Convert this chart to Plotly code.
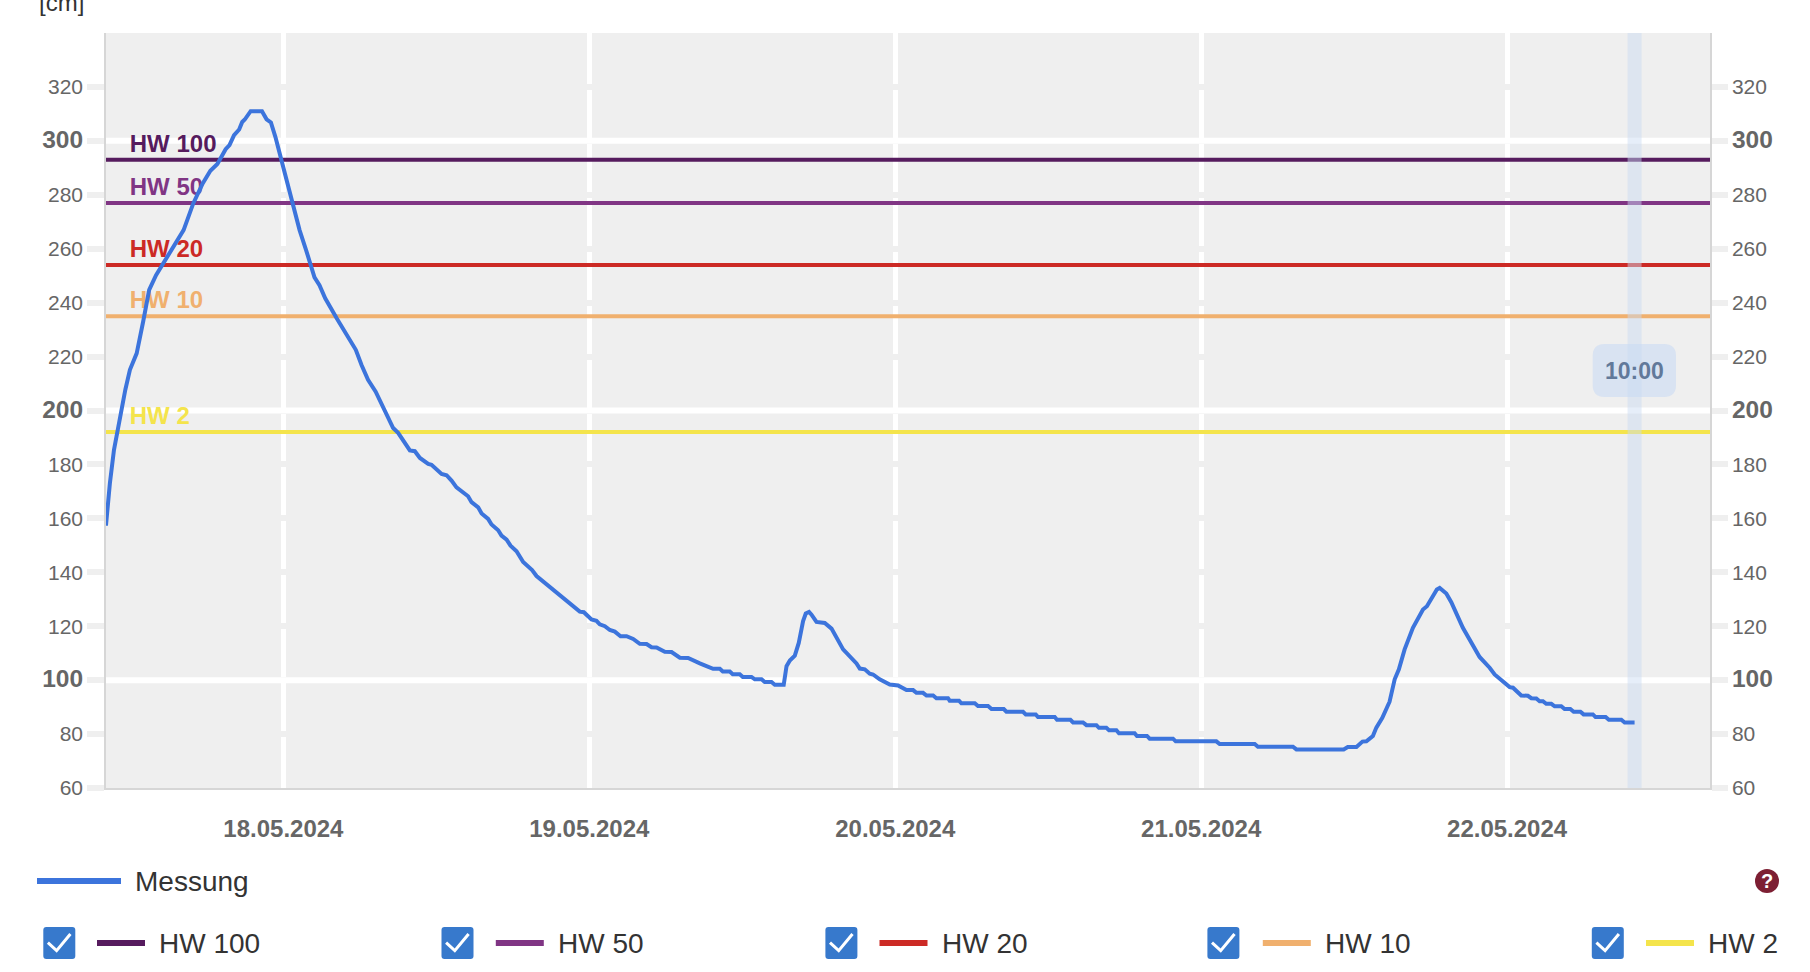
import pandas as pd
import plotly.graph_objects as go

# ---------- data ----------
START = "2024-05-17 10:00"
NOW = "2024-05-22 10:00"
RANGE_START = "2024-05-17 10:05"
RANGE_END = "2024-05-22 15:55"
hours = [0.08,0.39,0.71,0.97,1.31,1.6,1.96,2.49,3.0,3.47,4.01,4.67,5.42,6.17,6.93,7.67,8.27,8.82,9.47,9.77,10.13,10.53,10.77,10.97,11.43,12.32,12.68,13.02,13.37,13.68,13.98,14.34,14.73,15.27,15.78,16.44,16.83,17.28,18.18,19.68,20.13,20.64,21.24,21.54,22.22,22.61,23.0,23.45,23.92,24.31,24.71,25.36,25.62,26.41,26.8,27.19,27.58,28.49,28.76,29.28,29.55,30.06,30.33,30.85,31.11,31.51,31.82,32.29,32.81,33.51,33.86,37.25,37.57,38.17,38.56,38.82,39.22,39.61,40,40.45,40.92,41.44,41.96,42.49,42.88,43.27,43.92,44.45,44.84,45.1,45.75,46.14,46.67,47.19,47.71,48.24,48.47,49.02,49.25,49.8,50.04,50.72,50.98,51.51,51.76,52.29,52.55,53.25,53.47,53.73,54.12,54.43,54.77,54.98,55.24,55.43,55.82,56.47,57,57.91,58.3,58.56,58.96,59.22,59.61,60,60.26,60.78,61.18,61.57,62.22,62.49,62.88,63.4,63.66,64.18,64.45,64.97,65.23,66.14,66.27,67,67.19,68.24,68.49,69.28,69.55,70.51,70.72,72.02,72.24,73.02,73.2,74.51,74.69,75.74,75.95,76.73,77,77.78,77.98,78.56,78.77,79.35,79.55,80.78,80.96,81.75,81.96,83.79,84,87.19,87.45,90.2,90.45,93.2,93.47,97.18,97.5,98.18,98.65,98.96,99.47,99.74,100.21,100.78,101.18,101.51,101.96,102.61,102.88,103.4,103.71,104.49,104.71,105.23,105.62,106.02,106.53,107.84,108.24,108.63,109.02,110.2,110.46,111.11,111.63,111.9,112.29,112.55,112.81,113.07,113.47,113.73,114.25,114.51,114.96,115.22,115.75,116,116.73,116.94,117.73,117.98,118.96,119.22,120]
levels = [157.3,173.1,185.4,192.2,201.5,207.7,215.1,221.2,233,244.7,250.2,255.2,260.7,266.9,276.8,284.2,288.9,291.4,296.9,298.4,302.1,304.2,307,307.9,311,311,308,306.8,301.5,295.9,289.1,283.6,276.8,266.9,259.5,249.4,246.5,241.6,234.2,222.5,216.9,211.4,207,204,197.8,193.5,191.7,188.2,185.2,184.9,182.4,180.2,179.9,176.5,176,174,171.5,168.2,166,164.1,161.8,159.8,157.7,155.6,153.6,152.1,149.9,147.8,143.8,140.8,138.6,125.4,125.2,122.5,122,120.7,120,118.6,118,116.3,116.3,115.3,113.5,113.4,112.2,112.1,110.5,110.4,109.3,108.3,108.2,107.2,106.2,105.2,104.2,104.2,103.2,103.2,102.2,102.2,101.2,101.2,100.3,100.3,99.3,99.3,98.3,98.3,105.2,107.3,109.1,113.8,121.9,124.7,125.3,124.3,121.6,121.2,119.1,111.4,109.5,107.7,106.2,104.3,104,102.4,102.1,100.3,99.3,98.4,98,97.3,96.3,96.3,95.3,95.3,94.3,94.3,93.3,93.3,92.4,92.4,91.4,91.4,90.4,90.4,89.3,89.3,88.3,88.3,87.3,87.3,86.3,86.3,85.3,85.3,84.3,84.3,83.3,83.3,82.3,82.3,81.4,81.4,80.3,80.3,79.3,79.3,78.3,78.3,77.3,77.3,76.3,76.3,75.3,75.3,74.3,74.3,75.2,75.2,77.2,77.3,79.3,82.4,86,92,100.3,104,111.4,119.4,121.9,126.2,127.4,133.6,134.2,132.1,128.9,124.3,119.4,108.6,106.7,104.6,102.1,97.4,97.2,94.3,94.2,93.3,93.2,92.2,92.2,91.2,91.2,90.3,90.3,89.3,89.3,88.3,88.3,87.3,87.3,86.3,86.3,85.3,85.3,84.3,84.3]
hw_names = ["HW 100", "HW 50", "HW 20", "HW 10", "HW 2"]
hw_values = [293, 277, 254, 235, 192]
date_ticks = ["2024-05-18", "2024-05-19", "2024-05-20", "2024-05-21", "2024-05-22"]
date_labels = ["18.05.2024", "19.05.2024", "20.05.2024", "21.05.2024", "22.05.2024"]
y_ticks = [60, 80, 100, 120, 140, 160, 180, 200, 220, 240, 260, 280, 300, 320]
y_major = [100, 200, 300]

# ---------- style ----------
hw_colors = ["#561b5e", "#803584", "#cc2a25", "#f0b06e", "#f4e44c"]
BLUE = "#3c74dc"
FONT = "Liberation Sans"
W, H = 1810, 972
L, R, T, B = 106, 1710, 33, 788
px = lambda p: (p - L) / (R - L)
py = lambda p: 1 - (p - T) / (B - T)

def rrect(x0, y0, x1, y1, r):
    rx, ry = r / (R - L), r / (B - T)
    a, b, c, d = px(x0), px(x1), py(y0), py(y1)
    return (f"M {a+rx} {c} L {b-rx} {c} Q {b} {c} {b} {c-ry} L {b} {d+ry} Q {b} {d} {b-rx} {d} "
            f"L {a+rx} {d} Q {a} {d} {a} {d+ry} L {a} {c-ry} Q {a} {c} {a+rx} {c} Z")

times = pd.Timestamp(START) + pd.to_timedelta(hours, unit="h")
label_time = pd.Timestamp(START) + pd.Timedelta(hours=1.95)
LABEL_RAISE = 0.7

fig = go.Figure()
for name, val, col in zip(hw_names, hw_values, hw_colors):
    fig.add_trace(go.Scatter(x=[RANGE_START, RANGE_END], y=[val, val], mode="lines",
                             line=dict(color=col, width=4), name=name, hoverinfo="skip"))
    fig.add_trace(go.Scatter(x=[label_time], y=[val + LABEL_RAISE], mode="text", text=[f"<b>{name}</b>"],
                             textposition="top right",
                             textfont=dict(family=FONT, size=24, color=col), hoverinfo="skip"))
fig.add_trace(go.Scatter(x=[NOW, NOW], y=[60, 340], mode="lines",
                         line=dict(color="rgba(201,218,243,0.47)", width=14), hoverinfo="skip"))
fig.add_trace(go.Scatter(x=times, y=levels, mode="lines", name="Messung",
                         line=dict(color=BLUE, width=4)))
fig.add_trace(go.Scatter(x=[None], y=[None], yaxis="y2", hoverinfo="skip"))

def ylabel(v):
    if v in y_major:
        return f'<b><span style="font-size:24.5px">{v}</span></b>'
    return str(v)
y_text = [ylabel(v) for v in y_ticks]
yax = dict(range=[60, 340], tickvals=y_ticks, ticktext=y_text, ticks="outside",
           tickwidth=6, tickcolor="#efefef", tickfont=dict(family=FONT, size=21, color="#666"),
           showline=True, linecolor="#d6d6d6", linewidth=1.5, zeroline=False)

shapes = []
for v in y_major:
    shapes.append(dict(type="line", xref="x", yref="y", x0=RANGE_START, x1=RANGE_END, y0=v, y1=v,
                       layer="between", line=dict(color="#ffffff", width=6)))
shapes.append(dict(type="path", xref="paper", yref="paper", layer="above",
                   path=rrect(1592.7, 344, 1676, 397, 12),
                   fillcolor="rgba(201,218,243,0.6)", line=dict(width=0)))

annotations = [
    dict(text="[cm]", xref="paper", yref="paper", x=px(37), y=py(18), xanchor="left", yanchor="bottom",
         showarrow=False, font=dict(family=FONT, size=24, color="#333")),
    dict(text="<b>10:00</b>", xref="paper", yref="paper", x=px(1634.5), y=py(371), showarrow=False,
         xanchor="center", yanchor="middle", font=dict(family=FONT, size=23, color="#62799a")),
]

# legend row: measurement
shapes.append(dict(type="line", xref="paper", yref="paper", x0=px(37), x1=px(121), y0=py(881), y1=py(881),
                   line=dict(color=BLUE, width=6)))
annotations.append(dict(text="Messung", xref="paper", yref="paper", x=px(132.5), y=py(881.5), showarrow=False,
                        xanchor="left", yanchor="middle", font=dict(family=FONT, size=28, color="#333")))
# legend row: help icon
shapes.append(dict(type="circle", xref="paper", yref="paper", x0=px(1755), x1=px(1779), y0=py(869), y1=py(893),
                   fillcolor="#7d1f33", line=dict(width=0)))
annotations.append(dict(text="<b>?</b>", xref="paper", yref="paper", x=px(1767), y=py(881), showarrow=False,
                        xanchor="center", yanchor="middle", font=dict(family=FONT, size=20, color="#fff")))
# legend row: thresholds
box_x = [43.3, 441.5, 825.4, 1207.4, 1591.8]
swatch_x = [97, 495.8, 879.5, 1262.8, 1646]
text_x = [156.5, 555.5, 939.5, 1322.5, 1706]
for bx, sx, tx, name, col in zip(box_x, swatch_x, text_x, hw_names, hw_colors):
    shapes.append(dict(type="path", xref="paper", yref="paper", path=rrect(bx, 927, bx + 32, 959, 3),
                       fillcolor="#3779cc", line=dict(width=0)))
    chk = f"M {px(bx+4.6)} {py(942.7)} L {px(bx+13.3)} {py(950.7)} L {px(bx+27.1)} {py(934)}"
    shapes.append(dict(type="path", xref="paper", yref="paper", path=chk,
                       line=dict(color="#ffffff", width=3)))
    shapes.append(dict(type="line", xref="paper", yref="paper", x0=px(sx), x1=px(sx + 48), y0=py(943), y1=py(943),
                       line=dict(color=col, width=6)))
    annotations.append(dict(text=name, xref="paper", yref="paper", x=px(tx), y=py(943), showarrow=False,
                            xanchor="left", yanchor="middle", font=dict(family=FONT, size=28, color="#333")))

fig.update_layout(
    width=W, height=H, autosize=False, showlegend=False,
    margin=dict(l=L, r=W - R, t=T, b=H - B, pad=0),
    paper_bgcolor="#ffffff", plot_bgcolor="#efefef",
    xaxis=dict(type="date", range=[RANGE_START, RANGE_END], tickvals=date_ticks,
               ticktext=[f"<b>{t}</b>" for t in date_labels],
               ticks="outside", ticklen=18.5, tickcolor="rgba(0,0,0,0)", tickangle=0,
               tickfont=dict(family=FONT, size=24, color="#666"),
               showgrid=True, gridcolor="#ffffff", gridwidth=5,
               showline=True, linecolor="#d6d6d6", linewidth=2, zeroline=False),
    yaxis=dict(**yax, ticklen=17, showgrid=True, gridcolor="#efefef", gridwidth=6),
    yaxis2=dict(**yax, ticklen=16, overlaying="y", side="right", anchor="x", showgrid=False),
    shapes=shapes, annotations=annotations,
)
fig.write_html("out.html", config={"displayModeBar": False},
               post_script="document.body.style.margin='0';")
